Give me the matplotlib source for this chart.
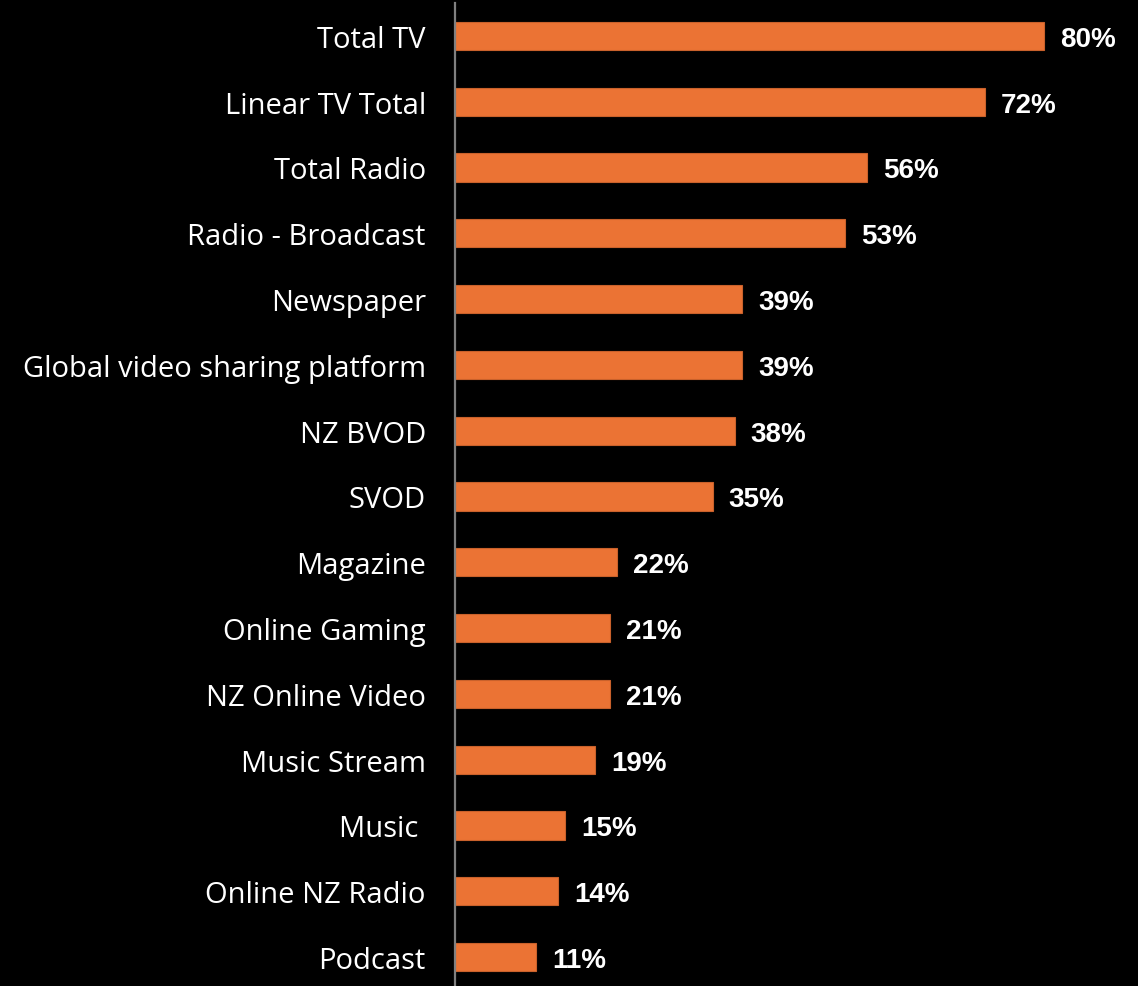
import matplotlib
matplotlib.use("Agg")
import matplotlib.pyplot as plt

categories = [
    "Total TV", "Linear TV Total", "Total Radio", "Radio - Broadcast",
    "Newspaper", "Global video sharing platform", "NZ BVOD", "SVOD",
    "Magazine", "Online Gaming", "NZ Online Video", "Music Stream",
    "Music ", "Online NZ Radio", "Podcast",
]
values = [80, 72, 56, 53, 39, 39, 38, 35, 22, 21, 21, 19, 15, 14, 11]

bar_color = "#EB7334"

fig = plt.figure(figsize=(11.38, 9.87), dpi=100, facecolor="black")
ax = fig.add_axes([455 / 1138, 0, 1 - 455 / 1138, 1], facecolor="black")

ypos = list(range(len(categories)))
ax.barh(ypos, values, height=0.43, color=bar_color, edgecolor="#C9612B", linewidth=0.8)

for y, v in zip(ypos, values):
    ax.annotate(f"{v}%", xy=(v, y), xytext=(16, -3), textcoords="offset pixels",
                ha="left", va="center", color="white", fontsize=20,
                fontweight="bold", family="Liberation Sans")

ax.set_xlim(0, (1138 - 455) / 7.36)
ax.set_ylim(14.44, -0.56)
ax.set_yticks(ypos)
ax.set_yticklabels(categories, family="Open Sans", fontsize=21, color="white")
ax.tick_params(axis="y", length=0, pad=21)
ax.set_xticks([])

for side in ("top", "right", "bottom"):
    ax.spines[side].set_visible(False)
ax.spines["left"].set_color("#808080")
ax.spines["left"].set_linewidth(1.6)
ax.spines["left"].set_bounds(-0.5, 14.44)

fig.savefig("out.png", dpi=100, facecolor="black")
